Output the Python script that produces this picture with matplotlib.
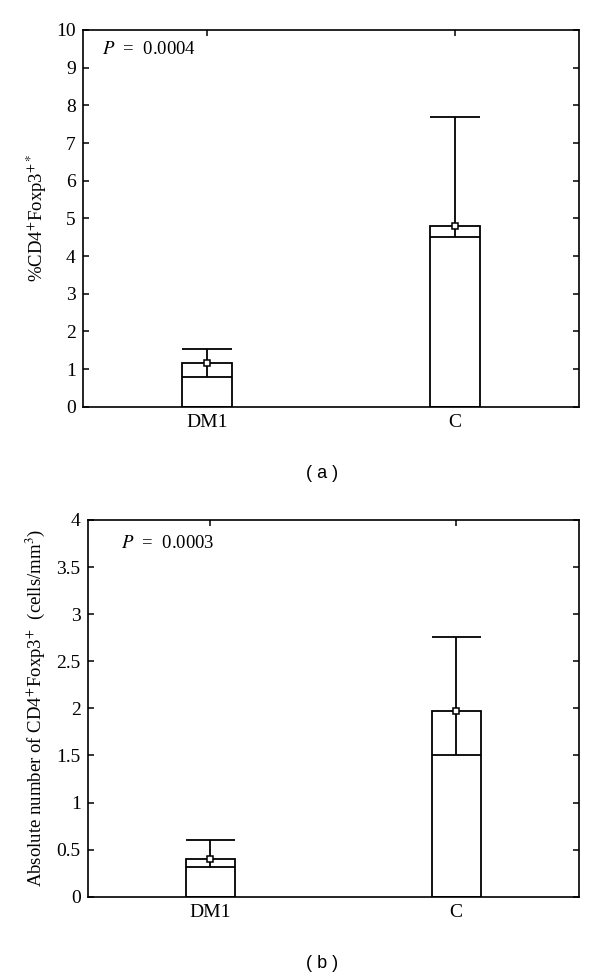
import matplotlib
matplotlib.use("Agg")
import matplotlib.pyplot as plt

plt.rcParams["font.family"] = ["Liberation Serif", "DejaVu Serif"]
plt.rcParams["mathtext.fontset"] = "stix"

groups = ["DM1", "C"]

# panel (a): %CD4+Foxp3+
a_mean = [1.15, 4.80]
a_median = [0.80, 4.50]
a_upper = [1.53, 7.70]

# panel (b): absolute number
b_mean = [0.40, 1.97]
b_median = [0.31, 1.50]
b_upper = [0.60, 2.76]

LW = 1.3
BAR_W = 0.2


def panel(ax, mean, median, upper, ylim, yticks, ylabel, ptext, ppos):
    x = list(range(1, len(groups) + 1))
    ax.bar(x, mean, BAR_W, color="white", edgecolor="black", linewidth=LW, zorder=2)
    for xi, md, up in zip(x, median, upper):
        ax.hlines(md, xi - BAR_W / 2, xi + BAR_W / 2, color="black", lw=LW, zorder=3)
        ax.vlines(xi, md, up, color="black", lw=LW, zorder=3)
        ax.hlines(up, xi - BAR_W / 2, xi + BAR_W / 2, color="black", lw=LW, zorder=3)
    ax.plot(x, mean, ls="none", marker="s", ms=4.5, mfc="white", mec="black",
            mew=1.1, zorder=4)
    ax.set_xlim(0.5, 2.5); ax.set_ylim(*ylim)
    ax.set_xticks(x); ax.set_xticklabels(groups, fontsize=14)
    ax.set_yticks(yticks)
    ax.set_yticklabels([f"{t:g}" for t in yticks], fontsize=14)
    ax.tick_params(direction="in", length=4.5, width=1.1, top=True, right=True,
                   labelright=False, labeltop=False, pad=5)
    for s in ax.spines.values():
        s.set_linewidth(1.2)
    ax.set_ylabel(ylabel, fontsize=13.5)
    ax.text(ppos[0], ppos[1], ptext, transform=ax.transAxes, fontsize=13.5,
            ha="left", va="center")


fig = plt.figure(figsize=(6.0, 9.77), dpi=100)
ax1 = fig.add_axes([0.138, 0.5837, 0.827, 0.3856])
ax2 = fig.add_axes([0.146, 0.0822, 0.819, 0.3856])

panel(ax1, a_mean, a_median, a_upper, (0, 10), list(range(0, 11)),
      r"%CD4$^{+}$Foxp3$^{+*}$", r"$P$  =  0.0004", (0.038, 0.947))
panel(ax2, b_mean, b_median, b_upper, (0, 4),
      [0, 0.5, 1, 1.5, 2, 2.5, 3, 3.5, 4],
      r"Absolute number of CD4$^{+}$Foxp3$^{+}$  (cells/mm$^{3}$)",
      r"$P$  =  0.0003", (0.067, 0.938))
ax1.yaxis.set_label_coords(-0.068, 0.5)
ax2.yaxis.set_label_coords(-0.082, 0.5)

fig.text(0.536, 1 - 473 / 977, "( a )", family="Liberation Sans", fontsize=13,
         ha="center", va="center")
fig.text(0.536, 1 - 963 / 977, "( b )", family="Liberation Sans", fontsize=13,
         ha="center", va="center")

fig.savefig("out.png", dpi=100)
